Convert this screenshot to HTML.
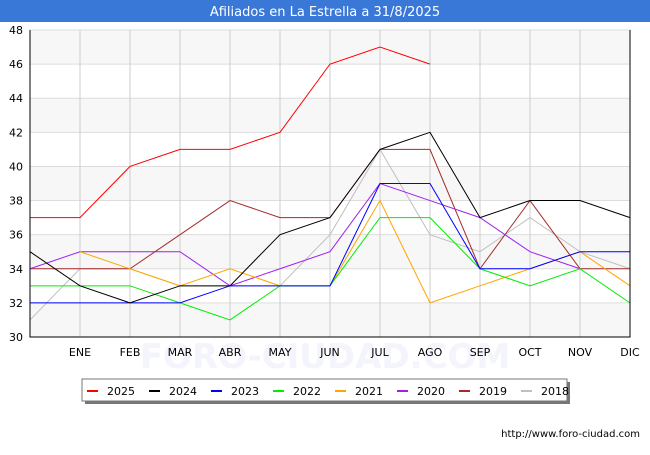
<!DOCTYPE html>
<html><head><meta charset="utf-8"><style>
body{margin:0;background:#fff;font-family:"Liberation Sans","DejaVu Sans",sans-serif}
</style></head><body>
<svg id="c" width="650" height="450" xmlns="http://www.w3.org/2000/svg" font-family="DejaVu Sans, Liberation Sans, sans-serif">
<rect x="0" y="0" width="650" height="22" fill="#3a78d8"/>
<text x="325" y="16" text-anchor="middle" fill="#fff" font-size="13">Afiliados en La Estrella a 31/8/2025</text>
<text x="325" y="368" text-anchor="middle" fill="#f3f4fc" font-size="34" font-weight="bold">FORO-CIUDAD.COM</text>
<g id="bands"></g><g id="grid"></g><g id="series"></g><g id="axes"></g>
<rect x="85" y="382" width="485" height="22" fill="#777"/>
<rect x="82" y="379" width="485" height="22" fill="#fff" stroke="#777"/>
<g id="legend"></g>
<text x="640" y="437" text-anchor="end" font-size="10" fill="#000">http://www.foro-ciudad.com</text>
</svg>
<script>
const months=["","ENE","FEB","MAR","ABR","MAY","JUN","JUL","AGO","SEP","OCT","NOV","DIC"];
const yTicks=[30,32,34,36,38,40,42,44,46,48];
const names=["2025","2024","2023","2022","2021","2020","2019","2018"];
const colors=["#ff0000","#000000","#0000ff","#00ee00","#ffa500","#a020f0","#a52a2a","#c0c0c0"];
const s2025=[37,37,40,41,41,42,46,47,46,null,null,null,null];
const s2024=[35,33,32,33,33,36,37,41,42,37,38,38,37];
const s2023=[32,32,32,32,33,33,33,39,39,34,34,35,35];
const s2022=[33,33,33,32,31,33,33,37,37,34,33,34,32];
const s2021=[null,35,34,33,34,33,33,38,32,33,34,35,33];
const s2020=[34,35,35,35,33,34,35,39,38,37,35,34,null];
const s2019=[34,34,34,36,38,37,37,41,41,34,38,34,34];
const s2018=[31,34,34,33,33,33,36,41,36,35,37,35,34];
const series=[s2025,s2024,s2023,s2022,s2021,s2020,s2019,s2018];
const NS="http://www.w3.org/2000/svg";
const L=30,R=630,T=30,B=337;
const x=i=>L+i*(R-L)/12;
const y=v=>B-(v-30)*(B-T)/18;
function mk(t,a,p){const e=document.createElementNS(NS,t);for(const k in a)e.setAttribute(k,a[k]);p.appendChild(e);return e;}
const bands=document.getElementById('bands'),grid=document.getElementById('grid'),sg=document.getElementById('series'),ax=document.getElementById('axes'),lg=document.getElementById('legend');
for(let v=30;v<48;v+=4){const r=mk('rect',{x:L,y:y(v+2),width:R-L,height:y(v)-y(v+2),fill:'#f7f7f7'},bands);

}
yTicks.forEach(v=>{const l=mk('line',{x1:L,x2:R,y1:y(v),y2:y(v),stroke:'#ddd'},grid);


const t=mk('text',{x:L-7,y:y(v)+4,'text-anchor':'end','font-size':11},ax);t.textContent=v;

});
months.forEach((m,i)=>{if(i==0)return;const l=mk('line',{x1:x(i),x2:x(i),y1:T,y2:B,stroke:'#ccc'},grid);


const t=mk('text',{x:x(i),y:B+19,'text-anchor':'middle','font-size':11},ax);t.textContent=m;

});
const fr=mk('path',{d:`M${L},${T}V${B}H${R}V${T}`,fill:'none',stroke:'#000'},ax);


for(let k=series.length-1;k>=0;k--){const d=series[k];let p='',pen=false;
d.forEach((v,i)=>{if(v==null){pen=false;return;}p+=(pen?'L':'M')+x(i)+','+y(v);pen=true;});
const e=mk('path',{d:p,fill:'none',stroke:colors[k],'stroke-width':1},sg);

}
names.forEach((n,k)=>{const lx=87+k*62;const l=mk('line',{x1:lx,x2:lx+11,y1:391,y2:391,stroke:colors[k],'stroke-width':2},lg);


const t=mk('text',{x:lx+20,y:395,'font-size':11},lg);t.textContent=n;

});
</script>
</body></html>
